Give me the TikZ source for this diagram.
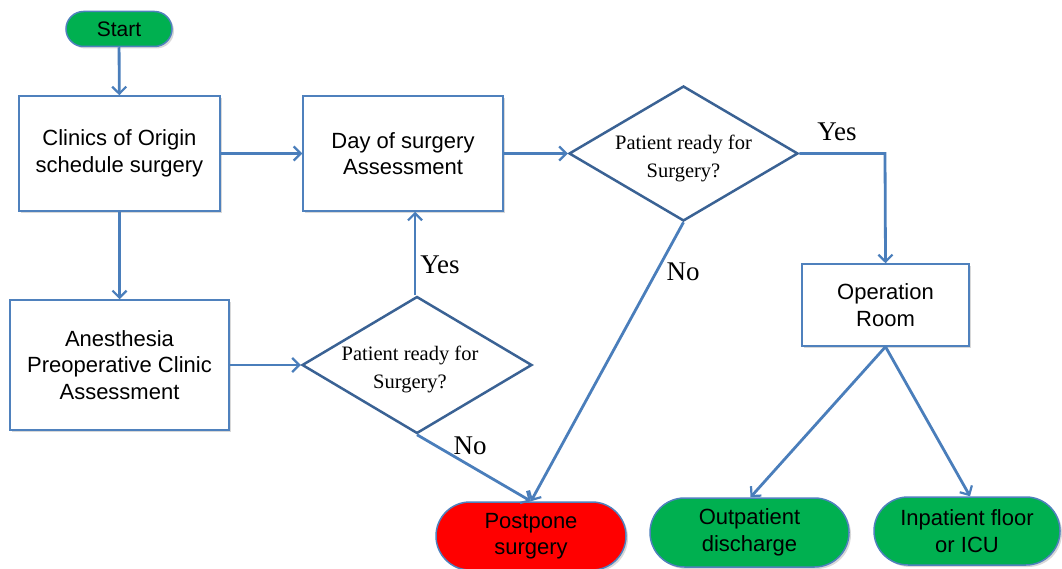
\documentclass[tikz,border=0pt]{standalone}
\usepackage{fontspec}
\setmainfont{Liberation Sans}
\newfontfamily\timesf{Liberation Serif}
\usetikzlibrary{shapes.geometric,shapes.misc,arrows.meta,shadows}
\definecolor{boxline}{RGB}{79,129,189}
\definecolor{conn}{RGB}{74,126,187}
\definecolor{dialine}{RGB}{58,98,148}
\definecolor{termgreen}{RGB}{0,176,80}
\definecolor{termred}{RGB}{255,0,0}
\tikzset{
  procbox/.style={draw=boxline, line width=1.5pt, fill=white, rectangle, align=center,
    font=\fontsize{22}{26.5}\selectfont, drop shadow={shadow xshift=2pt,shadow yshift=-2pt,fill=black!30}},
  decbox/.style={draw=dialine, line width=2.5pt, fill=white, diamond, inner sep=0pt},
  dectext/.style={align=center, inner sep=0pt, font=\timesf\fontsize{20.5}{28}\selectfont},
  termbox/.style={draw=boxline, line width=1.5pt, rounded rectangle, align=center, inner sep=0pt,
    font=\fontsize{22}{26.5}\selectfont, drop shadow={shadow xshift=2pt,shadow yshift=-2pt,fill=black!30}},
  flow/.style={draw=conn, line width=2.8pt, -{Straight Barb[length=7pt,width=14pt,line width=2.2pt]}},
  lbl/.style={font=\timesf\fontsize{27}{30}\selectfont, inner sep=0pt}
}
\begin{document}
\begin{tikzpicture}[x=1pt,y=-1pt]
\useasboundingbox (0,0) rectangle (1062,569);
\node[termbox, fill=termgreen, minimum width=106pt, minimum height=35pt, font=\fontsize{21}{25}\selectfont] (start) at (119,29) {Start};
\node[procbox, minimum width=201pt, minimum height=115pt] (clin) at (119.5,153.5) {Clinics of Origin\\schedule surgery};
\node[procbox, minimum width=200pt, minimum height=115pt] (day) at (403,153.5) {Day of surgery\\Assessment};
\node[procbox, minimum width=219pt, minimum height=130pt] (anes) at (119.5,365) {Anesthesia\\Preoperative Clinic\\Assessment};
\node[procbox, minimum width=167pt, minimum height=82pt] (or) at (885.5,305) {Operation\\Room};
\node[decbox, minimum width=229pt, minimum height=135pt, aspect=1.7] (d1) at (683.5,153.5) {};
\node[dectext] (d1t) at (683.5,158) {Patient ready for\\Surgery?};
\node[decbox, minimum width=230pt, minimum height=137pt, aspect=1.7] (d2) at (417,365) {};
\node[dectext] (d2t) at (410,369) {Patient ready for\\Surgery?};
\node[termbox, fill=termred, minimum width=190pt, minimum height=68pt] (post) at (531,536) {Postpone\\surgery};
\node[termbox, fill=termgreen, minimum width=199pt, minimum height=69pt] (outp) at (749.5,532.5) {Outpatient\\discharge};
\node[termbox, fill=termgreen, minimum width=186pt, minimum height=68pt] (inp) at (967,531) {Inpatient floor\\or ICU};
\coordinate (corner) at (885,153.5);
\draw[flow] (start) -- (clin);
\draw[flow] (clin) -- (day);
\draw[flow] (clin) -- (anes);
\draw[flow] (anes.east) -- (d2.west);
\draw[flow] (d2.north -| 415,0) -- (day.south -| 415,0);
\draw[flow] (day.east) -- (d1.west);
\draw[flow] (d1.east) -- (corner) -- (or.north);
\draw[flow] (d2.south) -- (post.north);
\draw[flow] (d1.south) -- (post.north);
\draw[flow] (or.south) -- ([xshift=1pt]outp.north);
\draw[flow] (or.south) -- ([xshift=3pt]inp.north);
\node[lbl] (y1) at (440,265) {Yes};
\node[lbl] (n1) at (470,446) {No};
\node[lbl] (y2) at (837,132) {Yes};
\node[lbl] (n2) at (683,272) {No};
\end{tikzpicture}
\end{document}
